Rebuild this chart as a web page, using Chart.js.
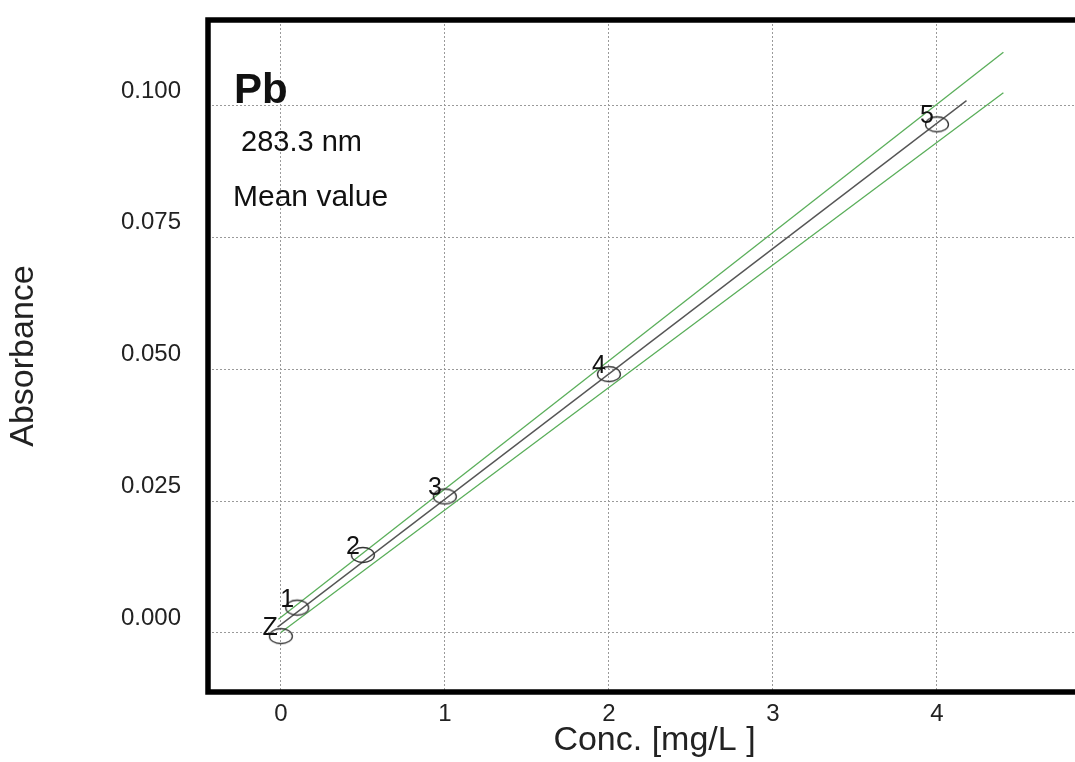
<!DOCTYPE html>
<html>
<head>
<meta charset="utf-8">
<title>Pb calibration</title>
<script src="https://cdn.jsdelivr.net/npm/chart.js@4/dist/chart.umd.min.js"></script>
<style>
  html, body { margin: 0; padding: 0; background: #fff; overflow: hidden; }
  #wrap { width: 1075px; height: 762px; overflow: hidden; }
</style>
</head>
<body>
<div id="wrap"><canvas id="calib" width="1112" height="762"></canvas></div>
<script>
// calibration standards
var pointLabels = ["Z", "1", "2", "3", "4", "5"];
var concValues  = [0, 0.1, 0.5, 1, 2, 4];
var absValues   = [-0.0006, 0.0048, 0.0148, 0.0259, 0.0491, 0.0965];

// regression line and the two green limit lines (end points)
var fitX   = [-0.02, 4.18];
var fitY   = [0.0011, 0.1010];
var upperX = [-0.015, 4.405];
var upperY = [0.0026, 0.1102];
var lowerX = [0, 4.405];
var lowerY = [0.0001, 0.1025];

// axes
var xTicks = [0, 1, 2, 3, 4];
var yTicks = [0, 0.025, 0.05, 0.075, 0.1];
var xRange = [-0.444, 5];
var yRange = [-0.0112, 0.1163];

var FONT = "'Liberation Sans', Arial, Helvetica, sans-serif";

function toXY(xs, ys){
    var out = [];
    for(var i=0;i<xs.length;i++){
        out.push({x: xs[i], y: ys[i]});
    }
    return out;
}

// ellipse used as point marker
function makeEllipse(){
    var c = document.createElement("canvas");
    c.width = 28;
    c.height = 20;
    var g = c.getContext("2d");
    g.strokeStyle = "#333";
    g.lineWidth = 1.3;
    g.beginPath();
    g.ellipse(14, 10, 11.5, 7.5, 0, 0, Math.PI*2);
    g.stroke();
    return c;
}

// thick frame on left, top and bottom (right side runs off the page)
var framePlugin = {
    id: "frame",
    afterDatasetsDraw: function(chart){
        var a = chart.chartArea;
        var ctx = chart.ctx;
        ctx.save();
        ctx.strokeStyle = "#000";
        ctx.lineWidth = 5.5;
        ctx.lineJoin = "miter";
        ctx.beginPath();
        ctx.moveTo(a.right + 10, a.top);
        ctx.lineTo(a.left, a.top);
        ctx.lineTo(a.left, a.bottom);
        ctx.lineTo(a.right + 10, a.bottom);
        ctx.stroke();
        ctx.restore();
    }
};

// point numbers and the header texts
var textPlugin = {
    id: "texts",
    afterDatasetsDraw: function(chart){
        var ctx = chart.ctx;
        var a = chart.chartArea;
        var meta = chart.getDatasetMeta(0);
        ctx.save();
        ctx.fillStyle = "#111";
        ctx.font = "25px " + FONT;
        ctx.textAlign = "right";
        ctx.textBaseline = "alphabetic";
        meta.data.forEach(function(el, i){
            ctx.fillText(pointLabels[i], el.x - 3, el.y - 1);
        });

        ctx.textAlign = "left";
        ctx.font = "bold 42px " + FONT;
        ctx.fillText("Pb", a.left + 26, a.top + 83);
        ctx.font = "29px " + FONT;
        ctx.fillText("283.3 nm", a.left + 33, a.top + 131);
        ctx.font = "30px " + FONT;
        ctx.fillText("Mean value", a.left + 25, a.top + 186);
        ctx.restore();
    }
};

var ctx = document.getElementById("calib").getContext("2d");

var chart = new Chart(ctx, {
    type: "scatter",
    data: {
        datasets: [
            {
                label: "standards",
                data: toXY(concValues, absValues),
                pointStyle: makeEllipse(),
                pointRadius: 10,
                showLine: false
            },
            {
                label: "fit",
                data: toXY(fitX, fitY),
                showLine: true,
                borderColor: "#555",
                borderWidth: 1.4,
                pointRadius: 0
            },
            {
                label: "upper",
                data: toXY(upperX, upperY),
                showLine: true,
                borderColor: "#5aae5a",
                borderWidth: 1.3,
                pointRadius: 0
            },
            {
                label: "lower",
                data: toXY(lowerX, lowerY),
                showLine: true,
                borderColor: "#5aae5a",
                borderWidth: 1.3,
                pointRadius: 0
            }
        ]
    },
    options: {
        responsive: false,
        animation: false,
        layout: { padding: { top: 20, right: 2.5, left: 0, bottom: 0 } },
        plugins: {
            legend: { display: false },
            tooltip: { enabled: false }
        },
        scales: {
            x: {
                type: "linear",
                min: xRange[0],
                max: xRange[1],
                afterBuildTicks: function(scale){
                    scale.ticks = xTicks.map(function(v){ return {value: v}; });
                },
                afterFit: function(scale){
                    scale.height = 70;
                    scale.paddingLeft = 0;
                    scale.paddingRight = 0;
                },
                grid: { color: "#9a9a9a", lineWidth: 1, drawTicks: false },
                border: { display: false, dash: [2, 2] },
                ticks: {
                    color: "#222",
                    font: { family: FONT, size: 24 },
                    padding: 8,
                    maxRotation: 0,
                    callback: function(v){ return String(v); }
                },
                title: {
                    display: true,
                    text: "Conc. [mg/L ]",
                    color: "#222",
                    font: { family: FONT, size: 34 },
                    padding: { top: 0, bottom: 1 }
                }
            },
            y: {
                type: "linear",
                min: yRange[0],
                max: yRange[1],
                afterBuildTicks: function(scale){
                    scale.ticks = yTicks.map(function(v){ return {value: v}; });
                },
                afterFit: function(scale){
                    scale.width = 208;
                    scale.paddingTop = 0;
                    scale.paddingBottom = 0;
                },
                grid: { color: "#9a9a9a", lineWidth: 1, drawTicks: false },
                border: { display: false, dash: [2, 2] },
                ticks: {
                    color: "#222",
                    font: { family: FONT, size: 24 },
                    padding: 27,
                    labelOffset: -15,
                    callback: function(v){ return v.toFixed(3); }
                },
                title: {
                    display: true,
                    text: "Absorbance",
                    color: "#222",
                    font: { family: FONT, size: 34 },
                    padding: { top: 3, bottom: 4 }
                }
            }
        }
    },
    plugins: [framePlugin, textPlugin]
});
</script>
</body>
</html>
